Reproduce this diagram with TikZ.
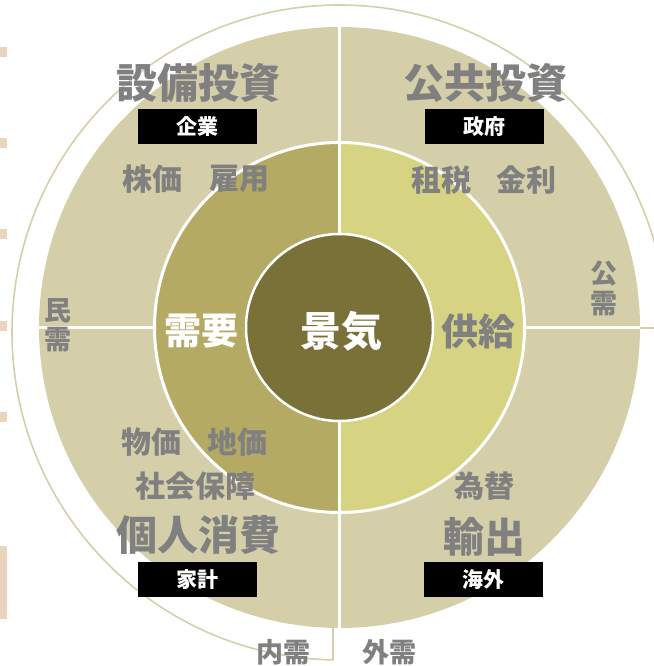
\documentclass[tikz,border=0pt]{standalone}
\usepackage{fontspec}
\setmainfont{Noto Sans CJK JP}
\definecolor{discC}{HTML}{D5CFA9}
\definecolor{midL}{HTML}{B4AA63}
\definecolor{midR}{HTML}{D6D382}
\definecolor{innerC}{HTML}{7A7139}
\definecolor{txtG}{HTML}{808080}
\definecolor{markC}{HTML}{EBD4BD}
\tikzset{
  title/.style={text=txtG, font=\bfseries\fontsize{41}{45}\selectfont, inner sep=0pt},
  sub/.style={text=txtG, font=\bfseries\fontsize{30}{33}\selectfont, inner sep=0pt},
  side/.style={text=txtG, font=\bfseries\fontsize{27}{29.5}\selectfont, inner sep=0pt, align=center},
  tag/.style={fill=black, text=white, font=\bfseries\fontsize{21}{23}\selectfont, minimum width=119pt, minimum height=35pt, inner sep=0pt},
  core/.style={font=\bfseries\fontsize{37}{40}\selectfont, inner sep=0pt},
  bracket/.style={draw=discC, line width=1.6pt},
  gap/.style={draw=white, line width=3pt},
  edgemark/.style={fill=markC}
}
\begin{document}
\begin{tikzpicture}[x=1pt,y=1pt]
\useasboundingbox (0,0) rectangle (653,666);
% left edge marks
\foreach \t in {47,138,229,321,412}{\fill[edgemark] (0,666-\t) rectangle (6.5,656-\t);}
\fill[edgemark] (0,120) rectangle (6.5,47);
\coordinate (C) at (339.5,338.5);
% outer disc
\fill[discC] (C) circle (300.5);
% middle halves
\fill[midL] (339.5,523.5) arc[start angle=90,end angle=270,radius=185] -- cycle;
\fill[midR] (339.5,153.5) arc[start angle=-90,end angle=90,radius=185] -- cycle;
\draw[gap] (C) circle (185);
% separating lines
\draw[gap] (339.5,639) -- (339.5,38);
\draw[gap] (39,338.5) -- (154.5,338.5);
\draw[gap] (524.5,338.5) -- (640,338.5);
% inner circle
\fill[innerC] (C) circle (93.5);
\draw[draw=white, line width=2.5pt] (C) circle (93.5);
% bracket
\coordinate (RB) at (640,338);
\coordinate (LB) at (333,38);
\draw[bracket] (RB) -- ([shift={(339.5,333.5)}]0.8:327.5) arc[start angle=0.8,end angle=268.86,radius=327.5] -- (LB);
% texts
\node[title] (t1) at (198,583) {設備投資};
\node[tag] (k1) at (197.5,539.5) {企業};
\node[sub] (s1) at (152.5,487) {株価};
\node[sub] (s2) at (239,487) {雇用};
\node[title] (t2) at (485,583) {公共投資};
\node[tag] (k2) at (484,539.5) {政府};
\node[sub] (s3) at (441,486) {租税};
\node[sub] (s4) at (526,486) {金利};
\node[sub] (s5) at (151,224) {物価};
\node[sub] (s6) at (237,224) {地価};
\node[sub] (s7) at (195,180) {社会保障};
\node[title] (t3) at (198,131) {個人消費};
\node[tag] (k3) at (197.5,86) {家計};
\node[sub] (s8) at (484,180) {為替};
\node[title] (t4) at (484,129) {輸出};
\node[tag] (k4) at (483,86.5) {海外};
\node[core, text=white] (d) at (201,335) {需要};
\node[core, text=txtG] (s) at (478,335) {供給};
\node[core, text=white, font=\bfseries\fontsize{41}{44}\selectfont] (g) at (341,335) {景気};
\node[side] (m1) at (58,340.5) {民\\需};
\node[side] (m2) at (603.5,377.5) {公\\需};
\node[side] (m3) at (283,14) {内需};
\node[side] (m4) at (389,14) {外需};
\end{tikzpicture}
\end{document}
